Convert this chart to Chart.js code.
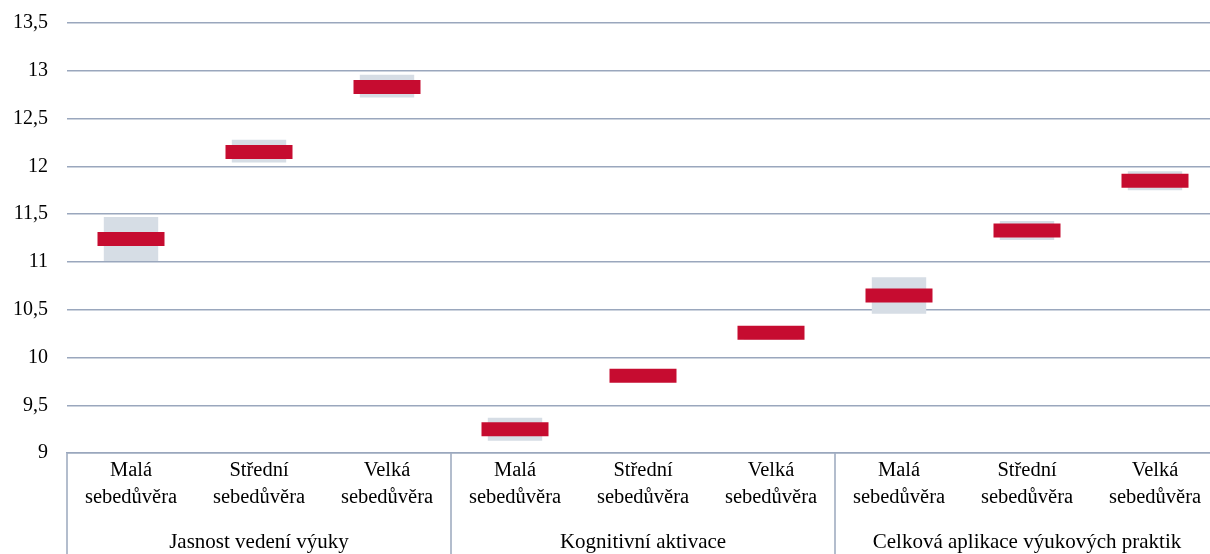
<!DOCTYPE html>
<html>
<head>
<meta charset="utf-8">
<script src="https://cdn.jsdelivr.net/npm/chart.js@4.4.1/dist/chart.umd.min.js"></script>
<style>
html,body{margin:0;padding:0;background:#fff;overflow:hidden;width:1210px;height:554px;}
#wrap{width:1219px;height:554px;position:relative;}
</style>
</head>
<body>
<div id="wrap"><canvas id="c"></canvas></div>
<script>
const categories = [
  ["Malá","sebedůvěra"],["Střední","sebedůvěra"],["Velká","sebedůvěra"],
  ["Malá","sebedůvěra"],["Střední","sebedůvěra"],["Velká","sebedůvěra"],
  ["Malá","sebedůvěra"],["Střední","sebedůvěra"],["Velká","sebedůvěra"]
];
const groups = ["Jasnost vedení výuky","Kognitivní aktivace","Celková aplikace výukových praktik"];
const groupSize = [3,3,3];
const means  = [11.24, 12.15, 12.83, 9.25, 9.81, 10.26, 10.65, 11.33, 11.85];
const ciLow  = [11.01, 12.04, 12.72, 9.13, 9.77, 10.19, 10.46, 11.23, 11.75];
const ciHigh = [11.47, 12.28, 12.96, 9.37, 9.85, 10.33, 10.84, 11.43, 11.95];
const yMin = 9, yMax = 13.5, yStep = 0.5;

const FONT = "'Liberation Serif','Times New Roman',serif";
const GRID = '#9aa7bd';
const TEXT = '#000000';

const groupPlugin = {
  id: 'groupLabels',
  afterDraw(chart) {
    const ctx = chart.ctx;
    const x = chart.scales.x;
    const step = x.getPixelForValue(1) - x.getPixelForValue(0);
    const top = chart.chartArea.bottom;
    const bottom = chart.height;
    ctx.save();
    ctx.strokeStyle = GRID;
    ctx.lineWidth = 1.5;
    let idx = 0;
    groups.forEach((g, gi) => {
      const left = x.getPixelForValue(idx) - step / 2;
      const right = x.getPixelForValue(idx + groupSize[gi] - 1) + step / 2;
      ctx.beginPath();
      ctx.moveTo(left, top);
      ctx.lineTo(left, bottom);
      ctx.stroke();
      ctx.fillStyle = TEXT;
      ctx.font = "21px " + FONT;
      ctx.textAlign = 'center';
      ctx.textBaseline = 'alphabetic';
      ctx.fillText(g, (left + right) / 2, 548);
      idx += groupSize[gi];
    });
    ctx.restore();
  }
};

new Chart(document.getElementById('c'), {
  data: {
    labels: categories,
    datasets: [
      {
        type: 'line',
        label: 'Průměr',
        data: means,
        showLine: false,
        pointStyle: 'line',
        pointRadius: 33.5,
        pointHoverRadius: 33.5,
        borderColor: '#c60c30',
        backgroundColor: '#c60c30',
        borderWidth: 14,
        pointBorderWidth: 14,
        clip: false,
        order: 1
      },
      {
        type: 'bar',
        label: 'Interval',
        data: ciLow.map((v, i) => [v, ciHigh[i]]),
        backgroundColor: '#d6dde5',
        borderWidth: 0,
        categoryPercentage: 1,
        barPercentage: 0.425,
        order: 2
      }
    ]
  },
  options: {
    responsive: true,
    maintainAspectRatio: false,
    animation: false,
    layout: { autoPadding: false, padding: { top: 23, left: 0, right: 0, bottom: 39 } },
    plugins: { legend: { display: false }, tooltip: { enabled: false } },
    scales: {
      x: {
        type: 'category',
        offset: true,
        grid: { display: false, drawTicks: false },
        border: { display: true, color: GRID, width: 1.5 },
        ticks: {
          color: TEXT,
          font: { family: FONT, size: 20.5, lineHeight: 1.36 },
          padding: 3,
          maxRotation: 0,
          autoSkip: false
        }
      },
      y: {
        min: yMin,
        max: yMax,
        afterFit: s => { s.width = 67; s.paddingTop = 0; },
        grid: { color: GRID, lineWidth: 1.5, drawTicks: false },
        border: { display: false },
        ticks: {
          stepSize: yStep,
          color: TEXT,
          padding: 19,
          font: { family: FONT, size: 20 },
          callback: v => String(v).replace('.', ',')
        }
      }
    }
  },
  plugins: [groupPlugin]
});
</script>
</body>
</html>
